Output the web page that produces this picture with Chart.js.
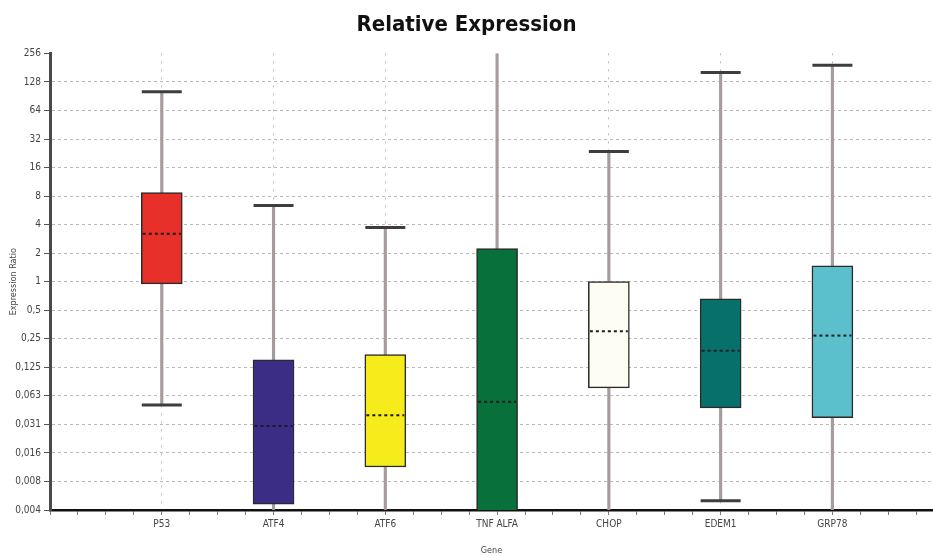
<!DOCTYPE html>
<html>
<head>
<meta charset="utf-8">
<script src="https://cdn.jsdelivr.net/npm/chart.js@4.4.1/dist/chart.umd.min.js"></script>
<style>
  html, body { margin: 0; padding: 0; background: #fff; }
  #wrap { width: 933px; height: 556px; position: relative; }
</style>
</head>
<body>
<div id="wrap"><canvas id="exprChart"></canvas></div>
<script>
const genes = ['P53', 'ATF4', 'ATF6', 'TNF ALFA', 'CHOP', 'EDEM1', 'GRP78'];
const whiskerHigh = [101, 6.35, 3.72, 400, 23.6, 161, 192];
const q3 = [8.7, 0.15, 0.17, 2.23, 1.0, 0.66, 1.47];
const median = [3.2, 0.030, 0.039, 0.054, 0.30, 0.187, 0.27];
const q1 = [0.95, 0.0045, 0.0111, 0.002, 0.076, 0.0466, 0.0367];
const whiskerLow = [0.05, 0.002, 0.002, 0.001, 0.002, 0.0049, 0.002];

const yTickValues = [256, 128, 64, 32, 16, 8, 4, 2, 1, 0.5, 0.25, 0.125, 0.0625, 0.03125, 0.015625, 0.0078125, 0.00390625];
const yTickLabels = ['256', '128', '64', '32', '16', '8', '4', '2', '1', '0,5', '0,25', '0,125', '0,063', '0,031', '0,016', '0,008', '0,004'];

const boxColors = ['#e8302a', '#3b2d86', '#f6ec1c', '#08703a', '#fdfdf3', '#07706b', '#5bc0cb'];
const narrow = "'Liberation Sans Narrow', 'DejaVu Sans Condensed', Arial, sans-serif";

// caps + dashed medians, drawn through the scales
const boxExtras = {
  id: 'boxExtras',
  afterDatasetsDraw(chart) {
    const { ctx, chartArea, scales: { x, y } } = chart;
    ctx.save();
    ctx.beginPath();
    ctx.rect(chartArea.left, chartArea.top, chartArea.width, chartArea.height);
    ctx.clip();
    genes.forEach((g, i) => {
      const cx = x.getPixelForValue(i + 1);
      ctx.setLineDash([]);
      ctx.strokeStyle = '#3d3d3d';
      ctx.lineWidth = 3;
      [whiskerLow[i], whiskerHigh[i]].forEach(v => {
        const py = y.getPixelForValue(v);
        ctx.beginPath();
        ctx.moveTo(cx - 20, py);
        ctx.lineTo(cx + 20, py);
        ctx.stroke();
      });
      const my = y.getPixelForValue(median[i]);
      ctx.setLineDash([3, 3]);
      ctx.strokeStyle = '#1c1c1c';
      ctx.lineWidth = 2;
      ctx.beginPath();
      ctx.moveTo(cx - 19, my);
      ctx.lineTo(cx + 19, my);
      ctx.stroke();
    });
    ctx.restore();
  }
};

const xSteps = [];
for (let v = 0; v <= 7.75; v += 0.25) xSteps.push(v);

new Chart(document.getElementById('exprChart'), {
  type: 'bar',
  data: {
    datasets: [
      {
        label: 'box',
        data: genes.map((g, i) => ({ x: i + 1, y: [q1[i], q3[i]] })),
        backgroundColor: boxColors,
        borderColor: '#2a2a2a',
        borderWidth: 1.5,
        borderSkipped: false,
        barThickness: 41,
        grouped: false,
        order: 1
      },
      {
        label: 'whisker',
        data: genes.map((g, i) => ({ x: i + 1, y: [whiskerLow[i], whiskerHigh[i]] })),
        backgroundColor: '#a59d9b',
        borderWidth: 0,
        barThickness: 2.5,
        grouped: false,
        order: 2
      }
    ]
  },
  options: {
    responsive: true,
    maintainAspectRatio: false,
    animation: false,
    layout: { padding: { left: 0, right: 0, top: 0, bottom: 0 } },
    plugins: {
      legend: { display: false },
      tooltip: { enabled: false },
      title: {
        display: true,
        text: 'Relative Expression',
        color: '#111',
        font: { family: narrow, size: 22, weight: 'bold' },
        padding: { top: 12, bottom: 15 }
      }
    },
    scales: {
      x: {
        type: 'linear',
        offset: false,
        min: 0,
        max: 7.9,
        afterBuildTicks: s => { s.ticks = xSteps.map(v => ({ value: v })); },
        afterFit: s => { s.height = 46; },
        ticks: {
          autoSkip: false,
          maxRotation: 0,
          padding: 3,
          color: '#444',
          font: { family: narrow, size: 10 },
          callback: v => (Number.isInteger(v) && v >= 1 ? genes[v - 1] : '')
        },
        grid: {
          offset: false,
          color: c => (c.tick && Number.isInteger(c.tick.value) && c.tick.value >= 1 ? '#b8b8b8' : 'rgba(0,0,0,0)'),
          tickColor: '#777',
          tickLength: 5,
          lineWidth: 1
        },
        border: { color: '#111', width: 2.5, dash: [2, 6] },
        title: {
          display: true,
          text: 'Gene',
          color: '#444',
          font: { family: narrow, size: 9 },
          padding: { top: 0, bottom: 0 }
        }
      },
      y: {
        type: 'logarithmic',
        min: 0.00390625,
        max: 256,
        afterBuildTicks: s => { s.ticks = yTickValues.map(v => ({ value: v })); },
        afterFit: s => { s.width = 50; },
        ticks: {
          autoSkip: false,
          padding: 3,
          color: '#444',
          font: { family: narrow, size: 10 },
          callback: v => yTickLabels[yTickValues.indexOf(v)]
        },
        grid: {
          color: c => (c.tick && c.tick.value === 256 ? 'rgba(0,0,0,0)' : '#b8b8b8'),
          tickColor: '#555',
          tickLength: 6,
          lineWidth: 1
        },
        border: { color: '#4a4a4a', width: 3, dash: [3, 3] },
        title: {
          display: true,
          text: 'Expression Ratio',
          color: '#444',
          font: { family: narrow, size: 9 },
          padding: { top: 8, bottom: 0 }
        }
      }
    }
  },
  plugins: [boxExtras]
});
</script>
</body>
</html>
